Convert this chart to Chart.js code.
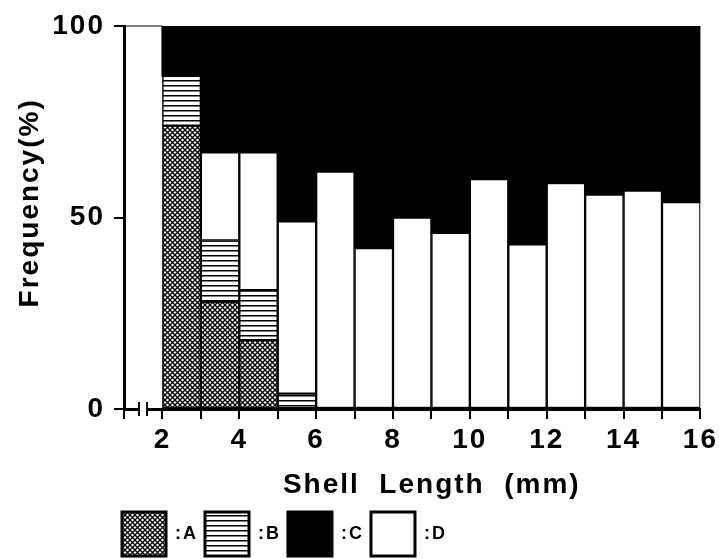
<!DOCTYPE html>
<html>
<head>
<meta charset="utf-8">
<script src="https://cdn.jsdelivr.net/npm/chart.js@4.4.1/dist/chart.umd.min.js"></script>
<style>
  html, body { margin: 0; padding: 0; background: #fff; }
  #wrap { width: 722px; height: 559px; }
</style>
</head>
<body>
<div id="wrap"><canvas id="shellChart" width="722" height="559"></canvas></div>
<script>
// lower edge of each 1 mm shell length class
const binStart = [2, 3, 4, 5, 6, 7, 8, 9, 10, 11, 12, 13, 14, 15];
// frequency (%) per class, stacked bottom to top: A, B, D, C
const typeA = [74, 28, 18, 0, 0, 0, 0, 0, 0, 0, 0, 0, 0, 0];
const typeB = [13, 16, 13, 4, 0, 0, 0, 0, 0, 0, 0, 0, 0, 0];
const typeD = [0, 23, 36, 45, 62, 42, 50, 46, 60, 43, 59, 56, 57, 54];
const typeC = [13, 33, 33, 51, 38, 58, 50, 54, 40, 57, 41, 44, 43, 46];
const xTickLabels = [2, 4, 6, 8, 10, 12, 14, 16];
const yTickLabels = [0, 50, 100];

const canvas = document.getElementById('shellChart');
const ctx = canvas.getContext('2d');

// cross hatch for A
function crossHatch() {
    let c = document.createElement('canvas');
    c.width = 5; c.height = 5;
    let g = c.getContext('2d');
    g.fillStyle = '#fff';
    g.fillRect(0, 0, 5, 5);
    g.strokeStyle = '#000';
    g.lineWidth = 1.3;
    g.beginPath();
    g.moveTo(-1, -1); g.lineTo(6, 6);
    g.moveTo(6, -1); g.lineTo(-1, 6);
    g.stroke();
    return ctx.createPattern(c, 'repeat');
}

// horizontal lines for B
function hLines() {
    let c = document.createElement('canvas');
    c.width = 4; c.height = 5;
    let g = c.getContext('2d');
    g.fillStyle = '#fff';
    g.fillRect(0, 0, 4, 5);
    g.fillStyle = '#000';
    g.fillRect(0, 0, 4, 1.5);
    return ctx.createPattern(c, 'repeat');
}

Chart.defaults.font.family = "'Liberation Sans', Arial, Helvetica, sans-serif";
Chart.defaults.color = '#000';

// wider letter spacing like the old typesetting
const spacing = {
    id: 'spacing',
    beforeLayout(chart) { chart.ctx.letterSpacing = '2px'; },
    beforeDraw(chart) { chart.ctx.letterSpacing = '2px'; }
};

// legend sits under the plot start
const legendShift = {
    id: 'legendShift',
    afterLayout(chart) {
        chart.legend.left -= 9;
        chart.legend.right -= 9;
    }
};

// axis break near the origin and the 100 line up to the first class
const axisBreak = {
    id: 'axisBreak',
    afterDraw(chart) {
        const x = chart.scales.x, y = chart.scales.y;
        const c = chart.ctx;
        const y0 = y.getPixelForValue(0);
        const y100 = y.getPixelForValue(100);
        const xa = x.getPixelForValue(1.39), xb = x.getPixelForValue(1.6);
        c.save();
        c.fillStyle = '#fff';
        c.fillRect(xa, y0 - 3, xb - xa, 6);
        c.strokeStyle = '#000';
        c.lineWidth = 2;
        c.beginPath();
        c.moveTo(xa, y0 - 7); c.lineTo(xa, y0 + 7);
        c.moveTo(xb, y0 - 7); c.lineTo(xb, y0 + 7);
        c.stroke();
        c.lineWidth = 1;
        c.beginPath();
        c.moveTo(chart.chartArea.left, y100);
        c.lineTo(x.getPixelForValue(binStart[0]), y100);
        c.stroke();
        c.restore();
    }
};

const barStyle = {
    borderColor: '#000',
    borderWidth: 1.5,
    borderSkipped: false,
    barPercentage: 1,
    categoryPercentage: 1
};

new Chart(ctx, {
    type: 'bar',
    data: {
        labels: binStart.map(b => b + 0.5),
        datasets: [
            Object.assign({ label: ':A', data: typeA, backgroundColor: crossHatch() }, barStyle),
            Object.assign({ label: ':B', data: typeB, backgroundColor: hLines() }, barStyle),
            Object.assign({ label: ':D', data: typeD, backgroundColor: '#fff' }, barStyle),
            Object.assign({ label: ':C', data: typeC, backgroundColor: '#000' }, barStyle,
                { borderWidth: 0, inflateAmount: 1 })
        ]
    },
    options: {
        responsive: false,
        animation: false,
        events: [],
        layout: { padding: { top: 26, right: 20, left: 0, bottom: 0 } },
        scales: {
            x: {
                type: 'linear',
                stacked: true,
                min: 1,
                max: 16,
                offset: false,
                border: { color: '#000', width: 3 },
                grid: { offset: false, drawOnChartArea: false, color: '#000', lineWidth: 2, tickLength: 10 },
                ticks: {
                    stepSize: 1,
                    autoSkip: false,
                    maxRotation: 0,
                    padding: 4,
                    font: { size: 28, weight: 'bold' },
                    callback: v => xTickLabels.includes(v) ? v : ''
                },
                title: {
                    display: true,
                    text: '    Shell  Length  (mm)',
                    font: { size: 28, weight: 'bold' },
                    padding: { top: 0, bottom: 3 }
                },
                afterFit: s => { s.height = 96; }
            },
            y: {
                stacked: true,
                min: 0,
                max: 100,
                border: { color: '#000', width: 3 },
                grid: { drawOnChartArea: false, color: '#000', lineWidth: 2, tickLength: 10 },
                ticks: {
                    padding: 9,
                    font: { size: 28, weight: 'bold' }
                },
                afterBuildTicks: s => { s.ticks = yTickLabels.map(v => ({ value: v })); },
                title: {
                    display: true,
                    text: '   Frequency(%)',
                    font: { size: 28, weight: 'bold' },
                    padding: { top: 13, bottom: 0 }
                },
                afterFit: s => { s.width = 124; }
            }
        },
        plugins: {
            legend: {
                position: 'bottom',
                align: 'start',
                fullSize: false,
                maxHeight: 54,
                labels: {
                    boxWidth: 44,
                    boxHeight: 44,
                    padding: 7,
                    font: { size: 18, weight: 'bold' },
                    sort: (a, b) => a.text.localeCompare(b.text),
                    generateLabels: chart => {
                        const items = Chart.defaults.plugins.legend.labels.generateLabels(chart);
                        items.forEach(it => { it.lineWidth = 3; it.strokeStyle = '#000'; });
                        return items;
                    }
                }
            },
            tooltip: { enabled: false }
        }
    },
    plugins: [spacing, legendShift, axisBreak]
});
</script>
</body>
</html>
